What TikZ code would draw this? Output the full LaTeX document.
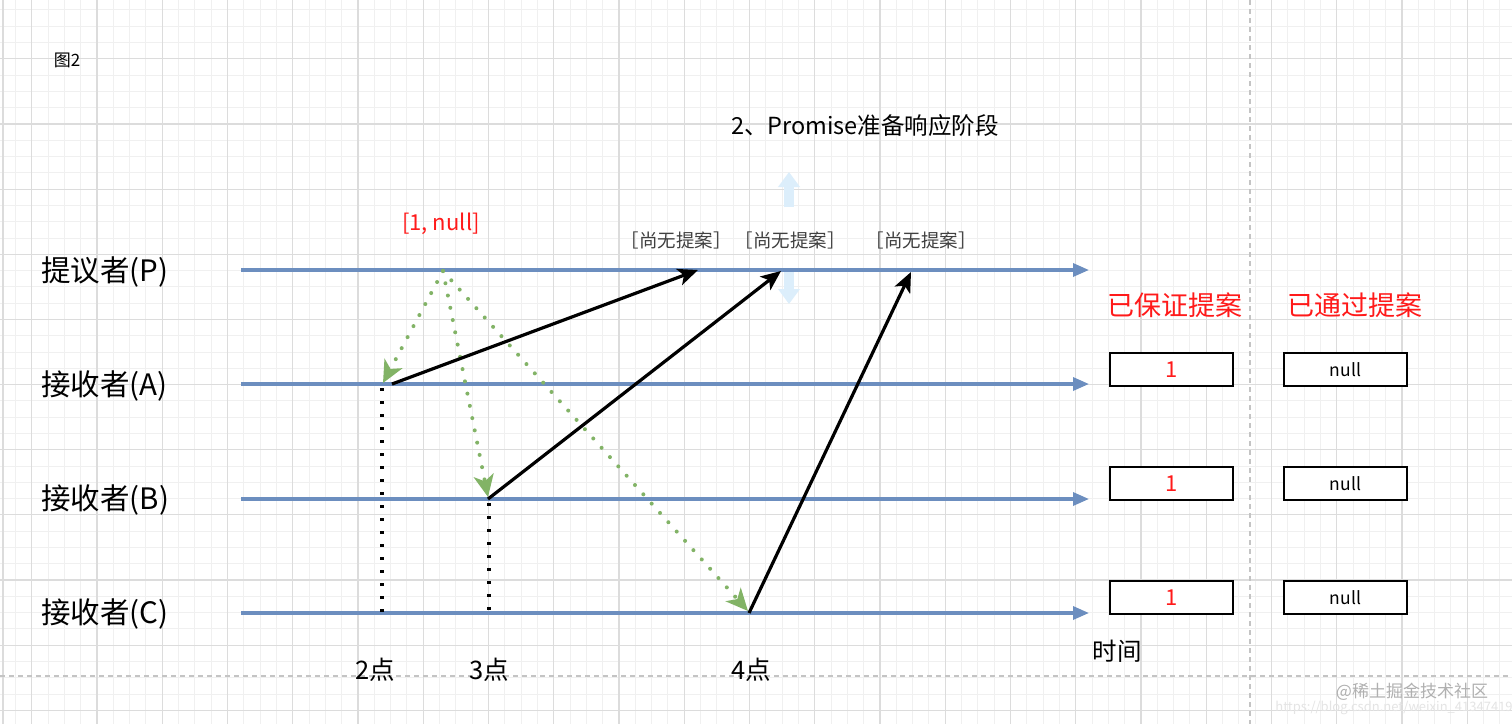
\documentclass[tikz,border=0pt]{standalone}
\usepackage{fontspec}
\setmainfont{Noto Sans CJK SC}
\usetikzlibrary{arrows.meta}
\definecolor{lineblue}{HTML}{6C8EBF}
\definecolor{dotgreen}{HTML}{82B366}
\definecolor{gridminor}{HTML}{F0F0F0}
\definecolor{gridmajor}{HTML}{DCDCDC}
\definecolor{lightarrow}{HTML}{DCEEFB}
\definecolor{redtxt}{HTML}{FF1A1A}
\definecolor{sepgray}{HTML}{C4C4C4}
\definecolor{wmgray}{HTML}{B0B0B0}
\definecolor{wmlight}{HTML}{E4E4E4}
\tikzset{
  minorgrid/.style={draw=gridminor, line width=0.9pt},
  majorgrid/.style={draw=gridmajor, line width=1.1pt},
  sepline/.style={draw=sepgray, line width=1.1pt, dash pattern=on 5pt off 4pt},
  timeline/.style={draw=lineblue, line width=3.2pt, -{Triangle[length=16pt,width=13pt]}},
  msgarrow/.style={draw=black, line width=3.2pt, -{Stealth[length=20pt,width=17pt,inset=5pt]}},
  promisearrow/.style={draw=dotgreen, line width=4pt, line cap=round, dash pattern=on 0pt off 12.5pt, -{Stealth[length=22pt,width=20pt,inset=6pt]}},
  markline/.style={draw=black, line width=3.2pt, dash pattern=on 3.2pt off 9.8pt},
  hintarrow/.style={draw=lightarrow, line width=10pt, -{Triangle[length=15pt,width=21pt]}},
  rolelabel/.style={anchor=west, inner sep=0pt, font=\fontsize{29.5}{33}\selectfont},
  timelabel/.style={inner sep=0pt, font=\fontsize{25.5}{28}\selectfont},
  nolabel/.style={inner sep=0pt, text=black!75, font=\fontsize{18.5}{22}\selectfont},
  header/.style={inner sep=0pt, text=redtxt, font=\fontsize{27}{30}\selectfont},
  valbox/.style={draw=black, line width=1.6pt, fill=white, minimum width=123pt, minimum height=33pt, inner sep=0pt},
}
\begin{document}
\begin{tikzpicture}[x=1pt,y=-1pt]
\useasboundingbox (0,0) rectangle (1512,724);
\fill[white] (0,0) rectangle (1512,724);
% grid
\foreach \i in {-2,...,91} {\draw[minorgrid] ({31.7+16.3125*\i},0) -- ({31.7+16.3125*\i},724);}
\foreach \j in {-4,...,41} {\draw[minorgrid] (0,{58.8+16.2875*\j}) -- (1512,{58.8+16.2875*\j});}
\foreach \i in {0,...,22} {\draw[majorgrid] ({31.7+65.25*\i},0) -- ({31.7+65.25*\i},724);}
\foreach \j in {-1,...,10} {\draw[majorgrid] (0,{58.8+65.15*\j}) -- (1512,{58.8+65.15*\j});}
\draw[majorgrid] (3,0) -- (3,724);
% separators
\coordinate (vs1) at (1250,0); \coordinate (vs2) at (1250,724);
\coordinate (hs1) at (0,676); \coordinate (hs2) at (1512,676);
\draw[sepline] (vs1) -- (vs2);
\draw[sepline] (hs1) -- (hs2);

% time lines
\coordinate (Ps) at (241,270); \coordinate (Pe) at (1089,270);
\coordinate (As) at (241,384); \coordinate (Ae) at (1089,384);
\coordinate (Bs) at (241,499); \coordinate (Be) at (1089,499);
\coordinate (Cs) at (241,613); \coordinate (Ce) at (1089,613);
\draw[timeline] (Ps) -- (Pe);
\draw[timeline] (As) -- (Ae);
\draw[timeline] (Bs) -- (Be);
\draw[timeline] (Cs) -- (Ce);

% light hint arrows
\coordinate (hu1) at (789,207); \coordinate (hu2) at (789,172);
\coordinate (hd1) at (789,272); \coordinate (hd2) at (789,304);
\draw[hintarrow] (hu1) -- (hu2);
\draw[hintarrow] (hd1) -- (hd2);

% event points
\coordinate (S) at (443,271);
\coordinate (A2) at (383,383);
\coordinate (B3) at (488,497);
\coordinate (C4) at (748,611);
\coordinate (A2s) at (392,384);
\coordinate (B3s) at (488,499);
\coordinate (C4s) at (749,613);
\coordinate (PA) at (698,270);
\coordinate (PB) at (781,271);
\coordinate (PC) at (911,272);
\coordinate (m2t) at (382,388); \coordinate (m2b) at (382,613);
\coordinate (m3t) at (489,503); \coordinate (m3b) at (489,613);

% vertical markers
\draw[markline] (m2t) -- (m2b);
\draw[markline] (m3t) -- (m3b);

% prepare messages
\draw[promisearrow] (S) -- (A2);
\draw[promisearrow] (S) -- (B3);
\draw[promisearrow] (S) -- (C4);

% promise replies
\draw[msgarrow] (A2s) -- (PA);
\draw[msgarrow] (B3s) -- (PB);
\draw[msgarrow] (C4s) -- (PC);

% texts
\node[inner sep=0pt, font=\fontsize{17}{20}\selectfont] (fig) at (67,60) {图2};
\node[inner sep=0pt, font=\fontsize{23.5}{27}\selectfont] (title) at (865,126) {2、Promise准备响应阶段};
\node[inner sep=0pt, text=redtxt, font=\fontsize{22}{25}\selectfont] (val) at (441,224) {[1, null]};
\node[nolabel] (n1) at (676,240) {［尚无提案］};
\node[nolabel] (n2) at (790,240) {［尚无提案］};
\node[nolabel] (n3) at (921,240) {［尚无提案］};

\node[rolelabel] (lP) at (41,272) {提议者(P)};
\node[rolelabel] (lA) at (41,386) {接收者(A)};
\node[rolelabel] (lB) at (41,500) {接收者(B)};
\node[rolelabel] (lC) at (41,614) {接收者(C)};

\node[timelabel] (t2) at (375,670) {2点};
\node[timelabel] (t3) at (489,670) {3点};
\node[timelabel] (t4) at (751,670) {4点};
\node[inner sep=0pt, font=\fontsize{24.5}{28}\selectfont] (time) at (1117,651) {时间};

\node[header] (h1) at (1175,305) {已保证提案};
\node[header] (h2) at (1355,305) {已通过提案};

\node[valbox, text=redtxt, font=\fontsize{22}{24}\selectfont] (gA) at (1171.5,369.5) {1};
\node[valbox, text=redtxt, font=\fontsize{22}{24}\selectfont] (gB) at (1171.5,483.5) {1};
\node[valbox, text=redtxt, font=\fontsize{22}{24}\selectfont] (gC) at (1171.5,597.5) {1};
\node[valbox, font=\fontsize{17.5}{20}\selectfont] (aA) at (1345.5,369.5) {null};
\node[valbox, font=\fontsize{17.5}{20}\selectfont] (aB) at (1345.5,483.5) {null};
\node[valbox, font=\fontsize{17.5}{20}\selectfont] (aC) at (1345.5,597.5) {null};

% watermark
\node[inner sep=0pt, text=wmlight, font=\fontsize{13}{15}\selectfont] (url) at (1394,708) {https://blog.csdn.net/weixin\_41347419};
\node[inner sep=0pt, text=wmgray, font=\fontsize{17}{20}\selectfont] (wm) at (1412,692) {@稀土掘金技术社区};
\end{tikzpicture}
\end{document}
